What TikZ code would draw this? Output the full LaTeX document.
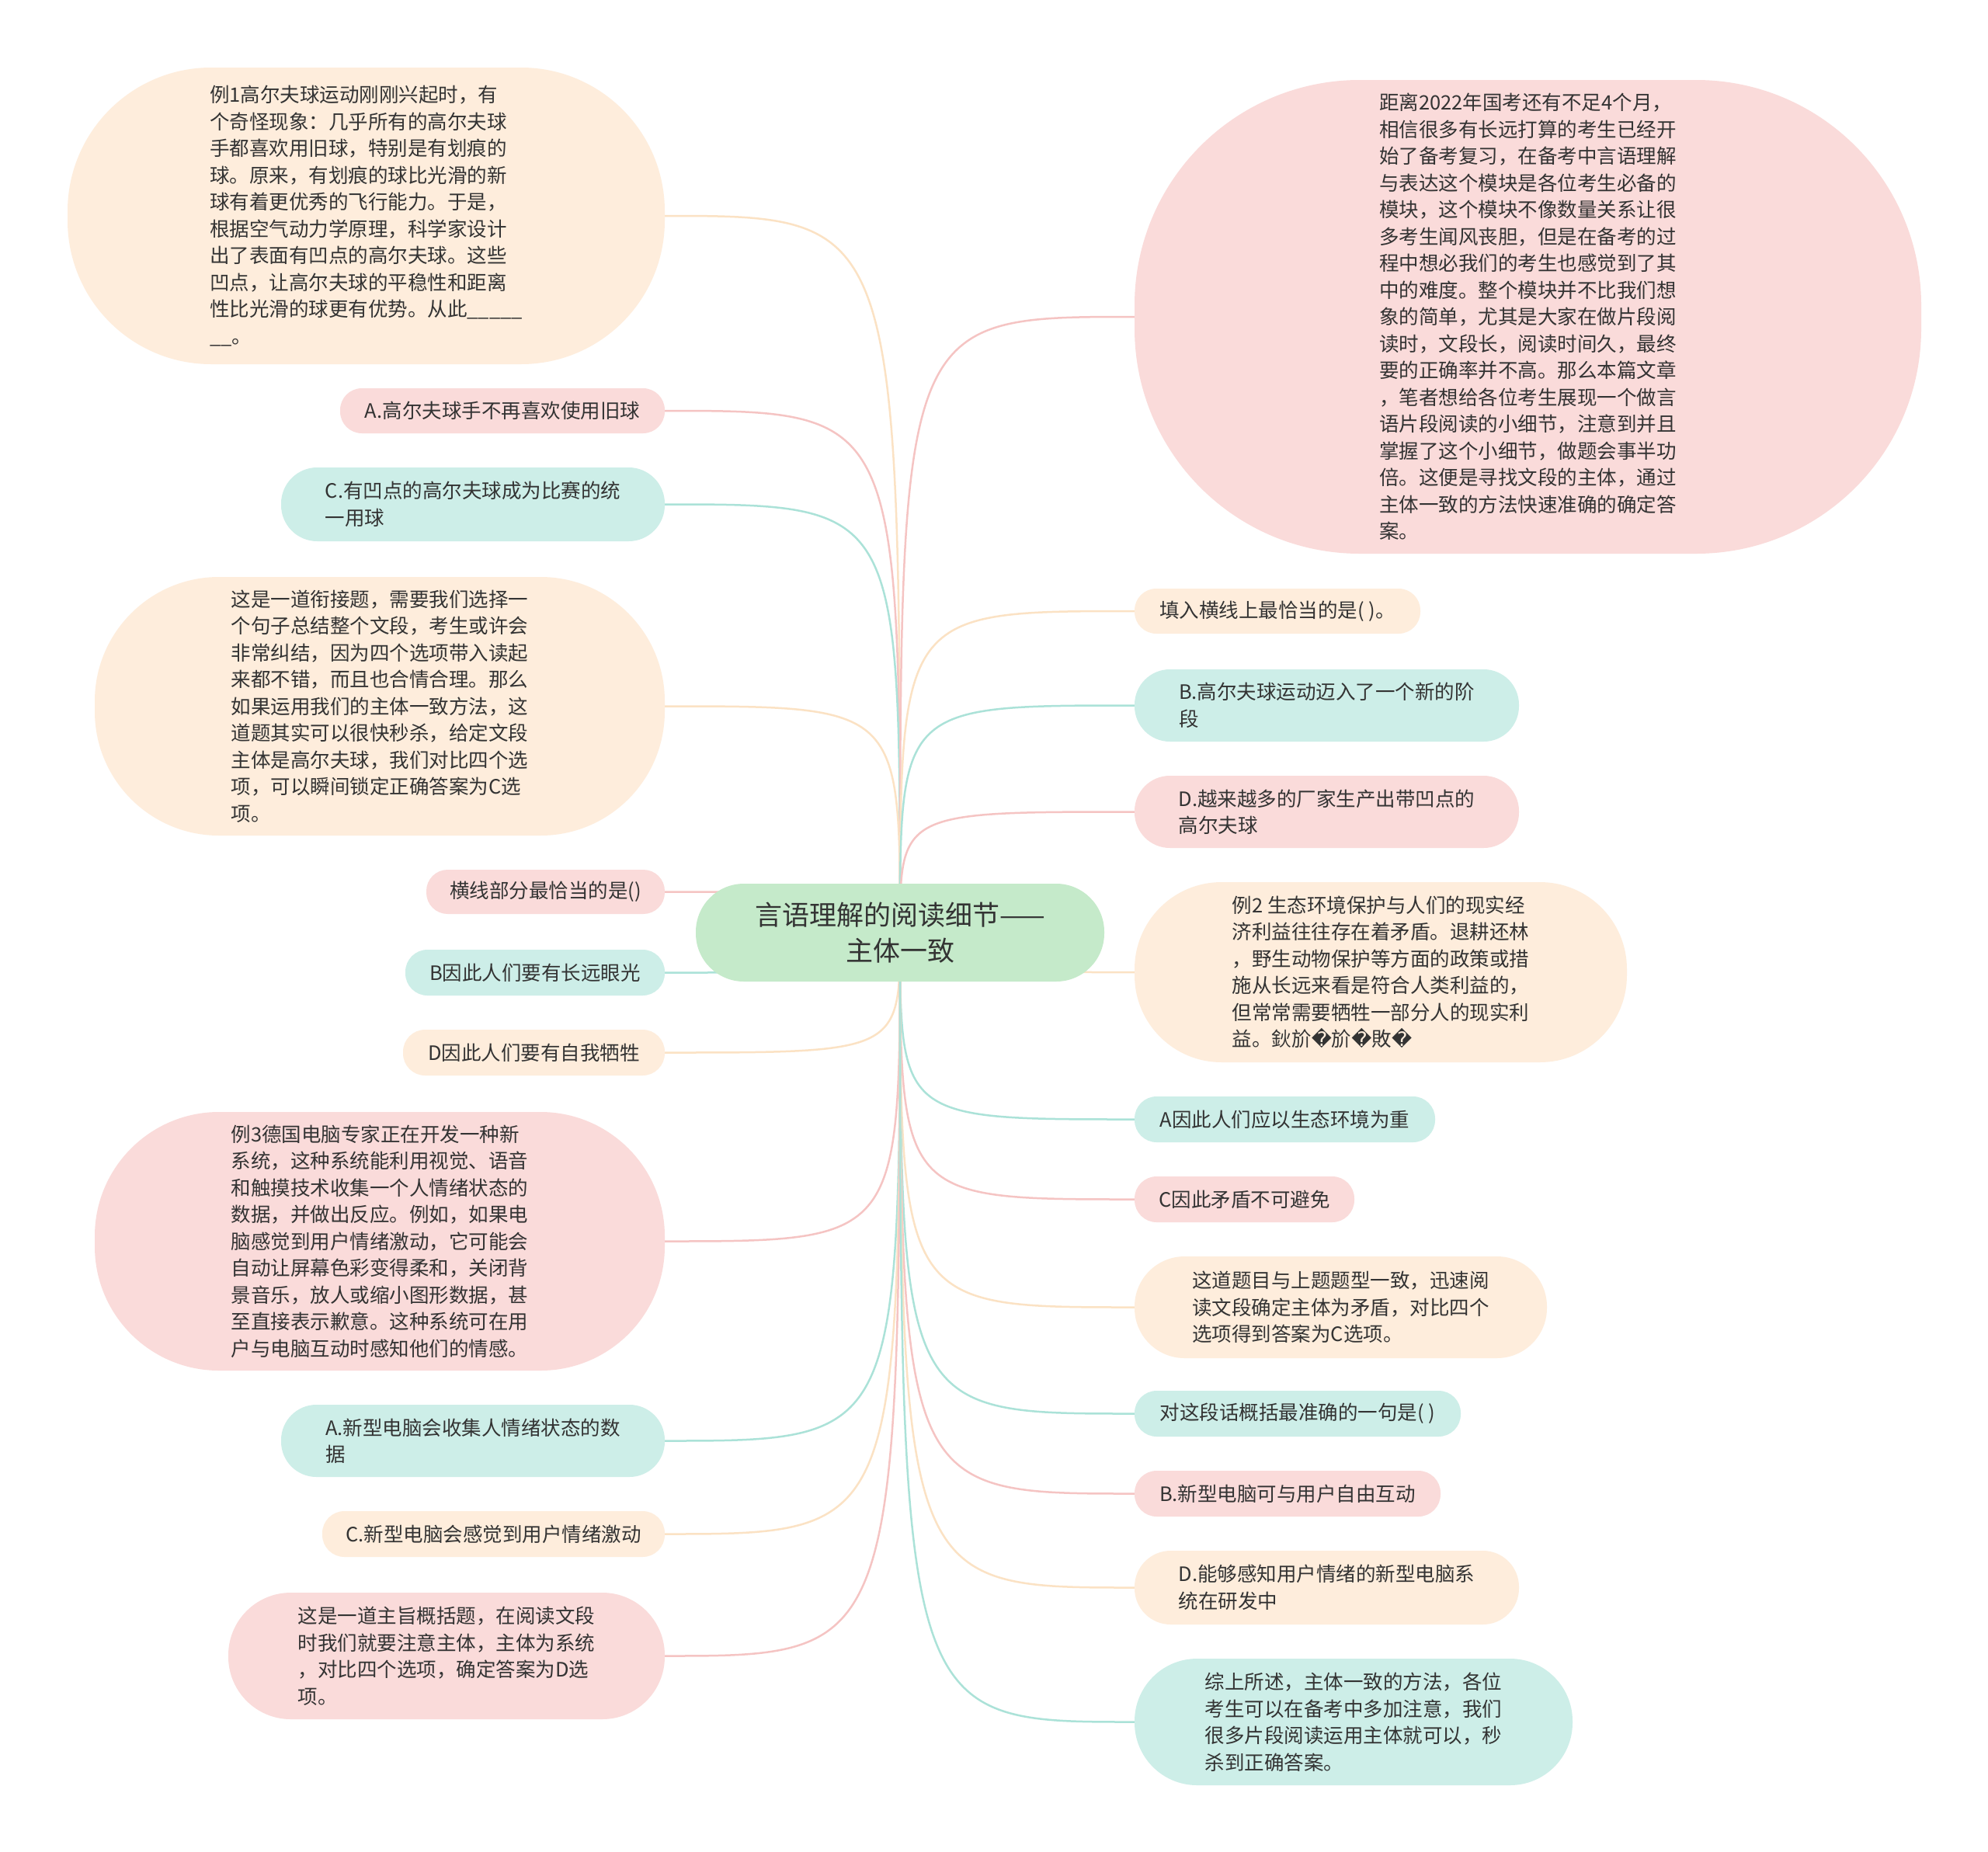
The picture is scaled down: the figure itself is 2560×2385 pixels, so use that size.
\documentclass[tikz,border=0pt]{standalone}
\usepackage{fontspec}
\newfontfamily\cjk{Noto Sans CJK SC}
\newfontfamily\dejavu{DejaVu Sans}
\usepackage{tikz}
\usetikzlibrary{backgrounds}

\definecolor{pinkfill}{HTML}{FADBDA}
\definecolor{tealfill}{HTML}{CDEEE8}
\definecolor{peachfill}{HTML}{FEEDDC}
\definecolor{rootfill}{HTML}{C5EACA}
\definecolor{pinkline}{HTML}{F5C4C3}
\definecolor{tealline}{HTML}{ABE2D8}
\definecolor{peachline}{HTML}{FBE2C4}
\definecolor{textgray}{HTML}{333333}

\tikzset{
  leaf/.style n args={3}{fill=#1, minimum width=#2, minimum height=#3,
    rounded corners={#3/2-1}, inner sep=0pt, align=left, text=textgray,
    font=\cjk\fontsize{25.5}{34.5}\selectfont},
  link/.style={draw=#1, line width=2.5pt},
}

\begin{document}
\begin{tikzpicture}[x=1pt,y=-1pt]
  \useasboundingbox (0,0) rectangle (2560,2385);

  % centre
  \node[fill=rootfill, minimum width=526, minimum height=126, rounded corners=62,
        inner sep=0pt, align=center, text=textgray,
        font=\cjk\fontsize{35}{46}\selectfont] (root) at (1159,1201)
        {言语理解的阅读细节——\\主体一致};

  % left side
  \node[leaf={peachfill}{769}{382}, rounded corners=185] (l1) at (471.5,278)
    {例1高尔夫球运动刚刚兴起时，有\\个奇怪现象：几乎所有的高尔夫球\\手都喜欢用旧球，特别是有划痕的\\球。原来，有划痕的球比光滑的新\\球有着更优秀的飞行能力。于是，\\根据空气动力学原理，科学家设计\\出了表面有凹点的高尔夫球。这些\\凹点，让高尔夫球的平稳性和距离\\性比光滑的球更有优势。从此\_\_\_\_\_\\\_\_。};
  \node[leaf={pinkfill}{418}{58}] (l2) at (647,529) {A.高尔夫球手不再喜欢使用旧球};
  \node[leaf={tealfill}{494}{95}] (l3) at (609,649.5) {C.有凹点的高尔夫球成为比赛的统\\一用球};
  \node[leaf={peachfill}{734}{333}, rounded corners=160] (l4) at (489,909.5)
    {这是一道衔接题，需要我们选择一\\个句子总结整个文段，考生或许会\\非常纠结，因为四个选项带入读起\\来都不错，而且也合情合理。那么\\如果运用我们的主体一致方法，这\\道题其实可以很快秒杀，给定文段\\主体是高尔夫球，我们对比四个选\\项，可以瞬间锁定正确答案为C选\\项。};
  \node[leaf={pinkfill}{307}{57}] (l5) at (702.5,1148.5) {横线部分最恰当的是()};
  \node[leaf={tealfill}{334}{59}] (l6) at (689,1252.5) {B因此人们要有长远眼光};
  \node[leaf={peachfill}{337}{59}] (l7) at (687.5,1355.5) {D因此人们要有自我牺牲};
  \node[leaf={pinkfill}{734}{333}, rounded corners=160] (l8) at (489,1598.5)
    {例3德国电脑专家正在开发一种新\\系统，这种系统能利用视觉、语音\\和触摸技术收集一个人情绪状态的\\数据，并做出反应。例如，如果电\\脑感觉到用户情绪激动，它可能会\\自动让屏幕色彩变得柔和，关闭背\\景音乐，放人或缩小图形数据，甚\\至直接表示歉意。这种系统可在用\\户与电脑互动时感知他们的情感。};
  \node[leaf={tealfill}{494}{93}] (l9) at (609,1855.5) {A.新型电脑会收集人情绪状态的数\\据};
  \node[leaf={peachfill}{441}{59}] (l10) at (635.5,1975.5) {C.新型电脑会感觉到用户情绪激动};
  \node[leaf={pinkfill}{562}{163}] (l11) at (575,2132.5)
    {这是一道主旨概括题，在阅读文段\\时我们就要注意主体，主体为系统\\，对比四个选项，确定答案为D选\\项。};

  % right side
  \node[leaf={pinkfill}{1013}{610}, rounded corners=290] (r1) at (1967.5,408)
    {距离2022年国考还有不足4个月，\\相信很多有长远打算的考生已经开\\始了备考复习，在备考中言语理解\\与表达这个模块是各位考生必备的\\模块，这个模块不像数量关系让很\\多考生闻风丧胆，但是在备考的过\\程中想必我们的考生也感觉到了其\\中的难度。整个模块并不比我们想\\象的简单，尤其是大家在做片段阅\\读时，文段长，阅读时间久，最终\\要的正确率并不高。那么本篇文章\\，笔者想给各位考生展现一个做言\\语片段阅读的小细节，注意到并且\\掌握了这个小细节，做题会事半功\\倍。这便是寻找文段的主体，通过\\主体一致的方法快速准确的确定答\\案。};
  \node[leaf={peachfill}{368}{58}] (r2) at (1645,787) {填入横线上最恰当的是( )。};
  \node[leaf={tealfill}{495}{93}] (r3) at (1708.5,908.5) {B.高尔夫球运动迈入了一个新的阶\\段};
  \node[leaf={pinkfill}{495}{93}] (r4) at (1708.5,1045.5) {D.越来越多的厂家生产出带凹点的\\高尔夫球};
  \node[leaf={peachfill}{634}{232}, rounded corners=112] (r5) at (1778,1252)
    {例2 生态环境保护与人们的现实经\\济利益往往存在着矛盾。退耕还林\\，野生动物保护等方面的政策或措\\施从长远来看是符合人类利益的，\\但常常需要牺牲一部分人的现实利\\益。鈥斺{\dejavu �}斺{\dejavu �}敗{\dejavu �}};
  \node[leaf={tealfill}{387}{59}] (r6) at (1654.5,1441.5) {A因此人们应以生态环境为重};
  \node[leaf={pinkfill}{283}{59}] (r7) at (1602.5,1544.5) {C因此矛盾不可避免};
  \node[leaf={peachfill}{531}{131}] (r8) at (1726.5,1683.5)
    {这道题目与上题题型一致，迅速阅\\读文段确定主体为矛盾，对比四个\\选项得到答案为C选项。};
  \node[leaf={tealfill}{420}{59}] (r9) at (1671,1820.5) {对这段话概括最准确的一句是( )};
  \node[leaf={pinkfill}{394}{59}] (r10) at (1658,1923.5) {B.新型电脑可与用户自由互动};
  \node[leaf={peachfill}{495}{95}] (r11) at (1708.5,2044.5) {D.能够感知用户情绪的新型电脑系\\统在研发中};
  \node[leaf={tealfill}{564}{163}] (r12) at (1743,2217.5)
    {综上所述，主体一致的方法，各位\\考生可以在备考中多加注意，我们\\很多片段阅读运用主体就可以，秒\\杀到正确答案。};

  \begin{scope}[on background layer]
    \fill[white] (0,0) rectangle (2560,2385);
    \foreach \n/\c in {l1/peachline, l2/pinkline, l3/tealline, l4/peachline,
                       l5/pinkline, l6/tealline, l7/peachline, l8/pinkline,
                       l9/tealline, l10/peachline, l11/pinkline}
      \draw[link=\c] (root.center) .. controls (root.center |- \n.east) .. (\n.east);
    \foreach \n/\c in {r1/pinkline, r2/peachline, r3/tealline, r4/pinkline,
                       r5/peachline, r6/tealline, r7/pinkline, r8/peachline,
                       r9/tealline, r10/pinkline, r11/peachline, r12/tealline}
      \draw[link=\c] (root.center) .. controls (root.center |- \n.west) .. (\n.west);
  \end{scope}
\end{tikzpicture}
\end{document}
